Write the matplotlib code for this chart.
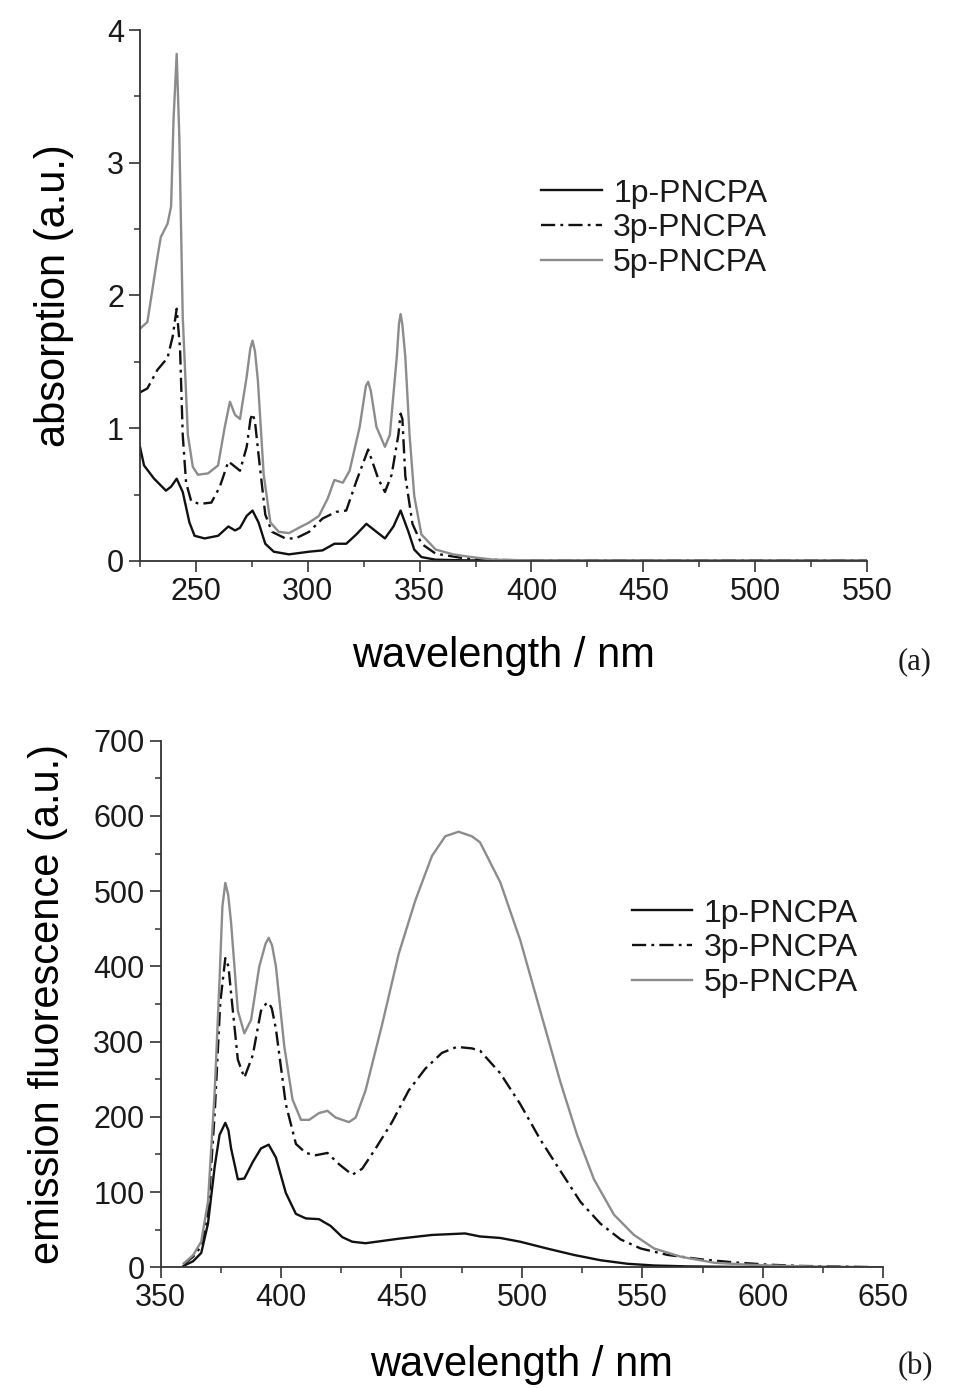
#!/usr/bin/env python3

import numpy as np
import matplotlib.pyplot as plt
from matplotlib.ticker import MultipleLocator


# (a) absorption spectra
abs_wl_5p = [225, 228.3, 232.8, 234.3, 237.3, 238.9, 240, 241.4, 242.6, 244.1, 246.4, 248.6,
             250.9, 255.4, 259.9, 262.9, 265.2, 267.5, 269.7, 272.7, 274.3, 275.3, 276.4, 277.7,
             280.3, 283.3, 287, 291.6, 296, 300.6, 305, 308.9, 311.9, 315.7, 318.7, 323.2,
             326, 327, 328.2, 330.7, 334.5, 336.7, 339.8, 340.8, 341.5, 342.3, 343.6, 345.5,
             347.6, 350.8, 357.2, 365, 373, 383, 400, 450, 500, 550]
abs_5p = [1.75, 1.80, 2.29, 2.44, 2.54, 2.67, 3.33, 3.82, 3.18, 1.84, 0.95, 0.71,
          0.65, 0.66, 0.72, 1.01, 1.20, 1.10, 1.07, 1.39, 1.60, 1.66, 1.58, 1.36,
          0.65, 0.29, 0.22, 0.21, 0.25, 0.29, 0.34, 0.47, 0.61, 0.59, 0.68, 1.01,
          1.32, 1.35, 1.28, 1.01, 0.86, 0.95, 1.54, 1.79, 1.86, 1.78, 1.54, 0.95,
          0.49, 0.20, 0.086, 0.05, 0.03, 0.01, 0.005, 0.003, 0.002, 0.002]

abs_wl_3p = [225, 228.3, 232.8, 237.3, 239.6, 241.4, 242.9, 244.1, 245.6, 247.9, 251.7, 256.9,
             260.7, 264.5, 267.5, 269.7, 272.7, 274.4, 275.3, 276.4, 278, 281, 284, 290,
             294.6, 300.6, 306.6, 312.7, 317.2, 321.7, 327, 331.5, 334.5, 337.5, 340.5, 341.5,
             342.3, 343.6, 346.8, 350.8, 357.2, 370, 385, 400, 450, 500, 550]
abs_3p = [1.27, 1.30, 1.44, 1.53, 1.69, 1.90, 1.60, 0.95, 0.59, 0.45, 0.43, 0.44,
          0.56, 0.75, 0.71, 0.68, 0.86, 1.07, 1.11, 1.05, 0.80, 0.35, 0.22, 0.17,
          0.17, 0.22, 0.32, 0.37, 0.38, 0.60, 0.84, 0.62, 0.52, 0.65, 0.95, 1.11,
          1.07, 0.64, 0.28, 0.13, 0.055, 0.02, 0.008, 0.004, 0.002, 0.002, 0.002]

abs_wl_1p = [225, 226.8, 231.3, 236.6, 238.9, 241.4, 244.1, 247.1, 249.4, 253.9, 259.9, 264.5,
             267.5, 269.7, 272.7, 275.3, 278, 281, 284.8, 291.6, 300.6, 306.6, 311.9, 317.2,
             321.7, 326.2, 330.7, 334.5, 338.3, 341.5, 345, 347.6, 350.8, 357, 370, 400, 450, 500, 550]
abs_1p = [0.86, 0.72, 0.62, 0.53, 0.56, 0.62, 0.52, 0.29, 0.19, 0.17, 0.19, 0.26,
          0.23, 0.25, 0.34, 0.38, 0.29, 0.13, 0.07, 0.05, 0.07, 0.08, 0.13, 0.13,
          0.20, 0.28, 0.22, 0.17, 0.26, 0.38, 0.22, 0.086, 0.03, 0.01, 0.005, 0.002, 0.002, 0.002, 0.002]

# (b) emission spectra
em_wl_5p = [359.6, 363.5, 366.9, 369.7, 372.5, 374.5, 375.7, 376.9, 378.1, 379.3, 382.1, 384.8,
            387.6, 391, 393.6, 394.9, 396.3, 397.9, 401.4, 404.8, 408.3, 411.7, 415.8, 419.3,
            422.7, 428.2, 431, 435.1, 442, 448.9, 455.8, 462.7, 468.2, 473.7, 479.2, 482.6,
            491, 499.3, 507.6, 516, 522.9, 529.9, 538.2, 546.5, 554.9, 566, 579.9, 593.8,
            607.6, 621.5, 650]
em_5p = [5, 16, 34, 87, 234, 382, 480, 511, 495, 458, 341, 311,
         329, 400, 430, 438, 428, 400, 293, 223, 196, 196, 205, 208,
         199, 193, 199, 235, 323, 417, 488, 547, 573, 579, 573, 565,
         512, 435, 341, 246, 176, 117, 70, 43, 25, 14, 6, 3.5,
         2, 1, 0]

em_wl_3p = [359.6, 363.5, 366.9, 369.7, 372.5, 374.8, 376.9, 378.2, 379.3, 382.1, 384.8, 388.3,
            391.7, 393.7, 394.9, 396.2, 397.9, 402, 406.2, 410.3, 414.5, 419.3, 424.1, 429.6,
            433.7, 439.3, 446.1, 453, 459.9, 466.8, 473, 479.2, 482.6, 491, 499.3, 507.6,
            516, 524.3, 532.6, 541, 549.3, 560.4, 574.3, 588.2, 602.1, 616, 650]
em_3p = [4, 14, 28, 70, 205, 352, 411, 400, 364, 276, 252, 282,
         341, 350, 352, 344, 317, 217, 164, 152, 149, 152, 137, 123,
         131, 158, 193, 235, 264, 285, 293, 291, 288, 258, 217, 170,
         128, 87, 58, 37, 25, 16.5, 10.6, 6.5, 3.5, 1.8, 0]

em_wl_1p = [359.6, 363.5, 366.9, 369.7, 372.5, 374.5, 376.9, 378.2, 379.3, 382.1, 384.8, 388.3,
            391.7, 394.9, 397.9, 402, 406.2, 410.3, 415.8, 420.6, 425.5, 429.6, 435.1, 442,
            448.9, 462.7, 476.4, 482.6, 491, 499.3, 510.4, 521.5, 532.6, 543.8, 554.9, 568.8,
            590, 650]
em_1p = [2, 8, 19, 58, 134, 176, 192, 182, 158, 117, 118, 140,
         158, 163, 146, 99, 71, 65, 64, 55, 40, 34, 32, 35,
         38, 43, 45, 41, 39, 34, 25, 16.5, 9.4, 4.7, 2.4, 1.2,
         0.5, 0]

labels = ['1p-PNCPA', '3p-PNCPA', '5p-PNCPA']

plt.rcParams['font.family'] = ['Liberation Sans', 'DejaVu Sans']
plt.rcParams['text.color'] = '#1a1a1a'

W, H = 956, 1388
fig = plt.figure(figsize=(W / 100, H / 100), dpi=100)


def px_axes(left, right, top, bottom):
	return fig.add_axes([left / W, 1 - bottom / H, (right - left) / W, (bottom - top) / H])


def style(ax):
	for s in ['top', 'right']:
		ax.spines[s].set_visible(False)
	for s in ['left', 'bottom']:
		ax.spines[s].set_linewidth(1.3)
		ax.spines[s].set_color('#333333')
	ax.tick_params(which='major', direction='out', length=8, width=1.2, labelsize=22, color='#333333', labelcolor='#1a1a1a')
	ax.tick_params(which='minor', direction='out', length=4.5, width=1.1, color='#333333')


dashdot = (0, (6, 2.2, 1.2, 2.2))
grey = '#8c8c8c'

# ---- (a)
ax1 = px_axes(140, 867, 30, 561)
ax1.plot(abs_wl_1p, abs_1p, color='#111111', lw=1.7, label=labels[0])
ax1.plot(abs_wl_3p, abs_3p, color='#111111', lw=1.7, ls=dashdot, label=labels[1])
ax1.plot(abs_wl_5p, abs_5p, color=grey, lw=1.7, label=labels[2])
ax1.set_xlim(225, 550)
ax1.set_ylim(0, 4)
ax1.xaxis.set_major_locator(MultipleLocator(50))
ax1.xaxis.set_minor_locator(MultipleLocator(25))
ax1.yaxis.set_major_locator(MultipleLocator(1))
ax1.yaxis.set_minor_locator(MultipleLocator(0.5))
style(ax1)
ax1.set_xlabel('wavelength / nm', fontsize=30, labelpad=21)
ax1.set_ylabel('absorption (a.u.)', fontsize=30, labelpad=24)
ax1.legend(loc='upper left', bbox_to_anchor=(0.552, 0.72), frameon=False, fontsize=23,
           handlelength=1.9, handletextpad=0.35, labelspacing=0.15, borderpad=0, borderaxespad=0)
fig.text(915 / W, 1 - 662 / H, '(a)', family='Liberation Serif', fontsize=22, ha='center', va='center')

# ---- (b)
ax2 = px_axes(160.5, 883.3, 740.7, 1267.3)
ax2.plot(em_wl_1p, em_1p, color='#111111', lw=1.7, label=labels[0])
ax2.plot(em_wl_3p, em_3p, color='#111111', lw=1.7, ls=dashdot, label=labels[1])
ax2.plot(em_wl_5p, em_5p, color=grey, lw=1.7, label=labels[2])
ax2.set_xlim(350, 650)
ax2.set_ylim(0, 700)
ax2.xaxis.set_major_locator(MultipleLocator(50))
ax2.xaxis.set_minor_locator(MultipleLocator(25))
ax2.yaxis.set_major_locator(MultipleLocator(100))
ax2.yaxis.set_minor_locator(MultipleLocator(50))
style(ax2)
ax2.set_xlabel('wavelength / nm', fontsize=30, labelpad=23)
ax2.set_ylabel('emission fluorescence (a.u.)', fontsize=30, labelpad=18)
ax2.legend(loc='upper left', bbox_to_anchor=(0.652, 0.70), frameon=False, fontsize=23,
           handlelength=1.9, handletextpad=0.35, labelspacing=0.15, borderpad=0, borderaxespad=0)
fig.text(915 / W, 1 - 1367 / H, '(b)', family='Liberation Serif', fontsize=22, ha='center', va='center')

fig.savefig('out.png', dpi=100)
